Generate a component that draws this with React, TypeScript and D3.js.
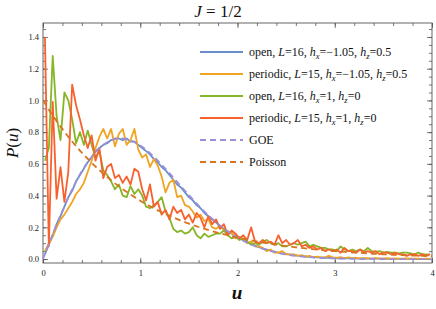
import React, { useEffect, useRef } from 'react';
import * as d3 from 'd3';

// histogram bins: centres start at binStart, spaced binWidth
const binStart = 0.02;
const binWidth = 0.04;

const openGeneric = [
  0.03, 0.09, 0.15, 0.22, 0.27, 0.33, 0.39, 0.43, 0.49, 0.53,
  0.57, 0.61, 0.64, 0.68, 0.70, 0.72, 0.73, 0.75, 0.76, 0.76,
  0.75, 0.76, 0.74, 0.74, 0.72, 0.70, 0.68, 0.66, 0.63, 0.61,
  0.58, 0.56, 0.53, 0.50, 0.47, 0.45, 0.42, 0.39, 0.37, 0.34,
  0.32, 0.29, 0.27, 0.25, 0.23, 0.21, 0.19, 0.175, 0.16, 0.145,
  0.13, 0.12, 0.105, 0.095, 0.085, 0.075, 0.067, 0.06, 0.053, 0.047,
  0.041, 0.036, 0.032, 0.028, 0.024, 0.021, 0.018, 0.016, 0.014, 0.012,
  0.01, 0.009, 0.008, 0.007, 0.006, 0.005, 0.005, 0.004, 0.004, 0.003,
  0.003, 0.003, 0.003, 0.002, 0.002, 0.002, 0.002, 0.002, 0.001, 0.001,
  0.001, 0.001, 0.001, 0.001, 0.001, 0.0, 0.0, 0.0, 0.0, 0.0,
];

const periodicGeneric = [
  0.05, 0.10, 0.14, 0.20, 0.25, 0.28, 0.32, 0.36, 0.41, 0.44,
  0.48, 0.55, 0.62, 0.70, 0.77, 0.82, 0.76, 0.82, 0.71, 0.79,
  0.82, 0.72, 0.75, 0.82, 0.69, 0.64, 0.66, 0.58, 0.63, 0.59,
  0.52, 0.42, 0.48, 0.50, 0.39, 0.40, 0.34, 0.33, 0.30, 0.26,
  0.28, 0.24, 0.25, 0.20, 0.19, 0.21, 0.18, 0.16, 0.17, 0.13,
  0.14, 0.12, 0.10, 0.11, 0.08, 0.08, 0.07, 0.05, 0.06, 0.04,
  0.04, 0.05, 0.03, 0.03, 0.03, 0.02, 0.025, 0.015, 0.02, 0.01,
  0.015, 0.01, 0.01, 0.02, 0.01, 0.008, 0.012, 0.006, 0.01, 0.005,
  0.008, 0.004, 0.006, 0.005, 0.003, 0.006, 0.004, 0.003, 0.005, 0.002,
  0.004, 0.003, 0.002, 0.004, 0.002, 0.003, 0.002, 0.001, 0.003, 0.002,
];

const openIsing = [
  0.62, 0.70, 1.28, 0.90, 0.75, 1.05, 1.00, 0.88, 0.73, 0.80,
  0.72, 0.81, 0.72, 0.64, 0.68, 0.56, 0.53, 0.49, 0.44, 0.47,
  0.40, 0.39, 0.46, 0.41, 0.44, 0.40, 0.33, 0.32, 0.34, 0.36,
  0.39, 0.30, 0.26, 0.19, 0.17, 0.18, 0.16, 0.17, 0.20, 0.15,
  0.13, 0.16, 0.14, 0.15, 0.16, 0.16, 0.18, 0.15, 0.13, 0.14,
  0.12, 0.13, 0.11, 0.09, 0.10, 0.09, 0.11, 0.12, 0.10, 0.09,
  0.10, 0.08, 0.08, 0.09, 0.10, 0.09, 0.10, 0.11, 0.08, 0.09,
  0.08, 0.07, 0.07, 0.06, 0.06, 0.05, 0.08, 0.06, 0.05, 0.06,
  0.05, 0.06, 0.05, 0.07, 0.05, 0.045, 0.05, 0.04, 0.045, 0.04,
  0.04, 0.035, 0.04, 0.04, 0.035, 0.03, 0.04, 0.03, 0.03, 0.03,
];

const periodicIsing = [
  1.40, 0.08, 0.99, 0.38, 0.58, 0.36, 0.55, 1.10, 0.97, 0.88,
  0.78, 0.70, 0.78, 0.62, 0.70, 0.51, 0.58, 0.60, 0.51, 0.53,
  0.48, 0.52, 0.47, 0.57, 0.55, 0.44, 0.37, 0.47, 0.33, 0.36,
  0.28, 0.31, 0.25, 0.33, 0.29, 0.31, 0.25, 0.28, 0.23, 0.29,
  0.26, 0.20, 0.27, 0.22, 0.25, 0.19, 0.22, 0.15, 0.18, 0.16,
  0.13, 0.15, 0.12, 0.20, 0.11, 0.10, 0.12, 0.10, 0.11, 0.09,
  0.15, 0.10, 0.12, 0.09, 0.10, 0.12, 0.08, 0.09, 0.07, 0.08,
  0.06, 0.07, 0.05, 0.06, 0.05, 0.06, 0.04, 0.07, 0.05, 0.05,
  0.04, 0.06, 0.04, 0.05, 0.04, 0.05, 0.03, 0.04, 0.04, 0.03,
  0.04, 0.03, 0.03, 0.02, 0.03, 0.03, 0.02, 0.03, 0.02, 0.03,
];

// reference curves, read at u = 0, 0.1, ..., 4
const theoryU = [
  0, 0.1, 0.2, 0.3, 0.4, 0.5, 0.6, 0.7, 0.8, 0.9, 1.0,
  1.1, 1.2, 1.3, 1.4, 1.5, 1.6, 1.7, 1.8, 1.9, 2.0,
  2.1, 2.2, 2.3, 2.4, 2.5, 2.6, 2.7, 2.8, 2.9, 3.0,
  3.1, 3.2, 3.3, 3.4, 3.5, 3.6, 3.7, 3.8, 3.9, 4.0,
];
const goeValues = [
  0, 0.156, 0.304, 0.439, 0.554, 0.645, 0.710, 0.748, 0.760, 0.749, 0.716,
  0.668, 0.608, 0.542, 0.472, 0.403, 0.337, 0.276, 0.222, 0.175, 0.136,
  0.103, 0.077, 0.057, 0.041, 0.029, 0.020, 0.014, 0.009, 0.006, 0.004,
  0.003, 0.002, 0.001, 0.001, 0, 0, 0, 0, 0, 0,
];
const poissonValues = [
  1.000, 0.905, 0.819, 0.741, 0.670, 0.607, 0.549, 0.497, 0.449, 0.407, 0.368,
  0.333, 0.301, 0.273, 0.247, 0.223, 0.202, 0.183, 0.165, 0.150, 0.135,
  0.122, 0.111, 0.100, 0.091, 0.082, 0.074, 0.067, 0.061, 0.055, 0.050,
  0.045, 0.041, 0.037, 0.033, 0.030, 0.027, 0.025, 0.022, 0.020, 0.018,
];

const xTicks = [0, 1, 2, 3, 4];
const yTicks = [0, 0.2, 0.4, 0.6, 0.8, 1.0, 1.2, 1.4];

// '*' = italic, '_' = italic subscript
const legendLabels = [
  ['open, ', '*L', '=16, ', '*h', '_x', '=\u22121.05, ', '*h', '_z', '=0.5'],
  ['periodic, ', '*L', '=15, ', '*h', '_x', '=\u22121.05, ', '*h', '_z', '=0.5'],
  ['open, ', '*L', '=16, ', '*h', '_x', '=1, ', '*h', '_z', '=0'],
  ['periodic, ', '*L', '=15, ', '*h', '_x', '=1, ', '*h', '_z', '=0'],
  ['GOE'],
  ['Poisson'],
];

const colors = ['#6b8ecb', '#f0a422', '#86b526', '#f8612e', '#9c8fd8', '#d8731f'];

const App: React.FC = () => {
  const svgRef = useRef<SVGSVGElement | null>(null);

  useEffect(() => {
    if (!svgRef.current) return;
    const svg = d3.select(svgRef.current);
    svg.selectAll('*').remove();

    const width = 436;
    const height = 309;
    const margin = { top: 23, right: 4, bottom: 46, left: 43 };
    const font = '"Liberation Serif", "Times New Roman", serif';

    const x = d3.scaleLinear().domain([0, 4]).range([margin.left, width - margin.right]);
    const y = d3.scaleLinear().domain([-0.025, 1.488]).range([height - margin.bottom, margin.top]);

    svg.append('rect').attr('width', width).attr('height', height).attr('fill', '#fff');

    svg.append('defs').append('clipPath').attr('id', 'plotClip')
      .append('rect')
      .attr('x', margin.left).attr('y', margin.top)
      .attr('width', width - margin.left - margin.right)
      .attr('height', height - margin.top - margin.bottom);

    const xMinor = d3.range(0, 4.001, 0.2);
    const yMinor = d3.range(0, 1.49, 0.05);
    const frameColor = '#555';

    const styleAxis = (g: d3.Selection<SVGGElement, unknown, null, undefined>) => {
      g.select('.domain').remove();
      g.selectAll('line').attr('stroke', frameColor).attr('stroke-width', 0.8);
      g.selectAll('text').attr('font-family', font).attr('font-size', 8.5).attr('fill', '#222');
    };

    // minor ticks on all four sides
    svg.append('g').attr('transform', `translate(0,${height - margin.bottom})`)
      .call(d3.axisBottom(x).tickValues(xMinor).tickSize(-3).tickFormat(() => '')).call(styleAxis);
    svg.append('g').attr('transform', `translate(0,${margin.top})`)
      .call(d3.axisTop(x).tickValues(xMinor).tickSize(-3).tickFormat(() => '')).call(styleAxis);
    svg.append('g').attr('transform', `translate(${margin.left},0)`)
      .call(d3.axisLeft(y).tickValues(yMinor).tickSize(-3).tickFormat(() => '')).call(styleAxis);
    svg.append('g').attr('transform', `translate(${width - margin.right},0)`)
      .call(d3.axisRight(y).tickValues(yMinor).tickSize(-3).tickFormat(() => '')).call(styleAxis);

    // major ticks
    svg.append('g').attr('transform', `translate(0,${height - margin.bottom})`)
      .call(d3.axisBottom(x).tickValues(xTicks).tickSize(-5).tickPadding(7).tickFormat(d3.format('d'))).call(styleAxis);
    svg.append('g').attr('transform', `translate(0,${margin.top})`)
      .call(d3.axisTop(x).tickValues(xTicks).tickSize(-5).tickFormat(() => '')).call(styleAxis);
    svg.append('g').attr('transform', `translate(${margin.left},0)`)
      .call(d3.axisLeft(y).tickValues(yTicks).tickSize(-5).tickPadding(4).tickFormat(d3.format('.1f'))).call(styleAxis);
    svg.append('g').attr('transform', `translate(${width - margin.right},0)`)
      .call(d3.axisRight(y).tickValues(yTicks).tickSize(-5).tickFormat(() => '')).call(styleAxis);

    // frame
    svg.append('rect')
      .attr('x', margin.left).attr('y', margin.top)
      .attr('width', width - margin.left - margin.right)
      .attr('height', height - margin.top - margin.bottom)
      .attr('fill', 'none').attr('stroke', frameColor).attr('stroke-width', 0.9);

    const plot = svg.append('g').attr('clip-path', 'url(#plotClip)');

    const histLine = d3.line<number>()
      .x((_, i) => x(binStart + i * binWidth))
      .y(d => y(d));

    const seriesList = [openGeneric, periodicGeneric, openIsing, periodicIsing];
    seriesList.forEach((s, k) => {
      plot.append('path')
        .attr('d', histLine(s) || '')
        .attr('fill', 'none')
        .attr('stroke', colors[k])
        .attr('stroke-width', 1.8)
        .attr('stroke-linejoin', 'round');
    });

    const theoryLine = d3.line<number>()
      .x((_, i) => x(theoryU[i]))
      .y(d => y(d))
      .curve(d3.curveMonotoneX);

    [goeValues, poissonValues].forEach((s, k) => {
      plot.append('path')
        .attr('d', theoryLine(s) || '')
        .attr('fill', 'none')
        .attr('stroke', colors[4 + k])
        .attr('stroke-width', 1.8)
        .attr('stroke-dasharray', '6,4');
    });

    // legend
    const legend = svg.append('g').attr('transform', 'translate(200,52)');
    legendLabels.forEach((parts, i) => {
      const row = legend.append('g').attr('transform', `translate(0,${i * 22})`);
      row.append('line')
        .attr('x1', 0).attr('x2', 43).attr('y1', 0).attr('y2', 0)
        .attr('stroke', colors[i]).attr('stroke-width', 1.8)
        .attr('stroke-dasharray', i >= 4 ? '6,4' : null);
      const text = row.append('text')
        .attr('x', 49).attr('y', 4)
        .attr('font-family', font).attr('font-size', 12).attr('fill', '#111');
      let shifted = false;
      parts.forEach(p => {
        const t = text.append('tspan');
        if (p.startsWith('_')) {
          t.text(p.slice(1)).attr('font-style', 'italic').attr('font-size', 8.5).attr('dy', 3);
          shifted = true;
        } else {
          if (shifted) { t.attr('dy', -3); shifted = false; }
          if (p.startsWith('*')) t.text(p.slice(1)).attr('font-style', 'italic');
          else t.text(p);
        }
      });
    });

    // title
    const title = svg.append('text')
      .attr('x', 218).attr('y', 17)
      .attr('text-anchor', 'middle')
      .attr('font-family', font).attr('font-size', 17).attr('fill', '#111');
    title.append('tspan').attr('font-style', 'italic').text('J');
    title.append('tspan').text(' = 1/2');

    // axis labels
    const yLabel = svg.append('text')
      .attr('transform', `translate(18,143) rotate(-90)`)
      .attr('text-anchor', 'middle')
      .attr('font-family', font).attr('font-size', 17).attr('fill', '#111');
    yLabel.append('tspan').attr('font-style', 'italic').text('P');
    yLabel.append('tspan').text('(');
    yLabel.append('tspan').attr('font-style', 'italic').text('u');
    yLabel.append('tspan').text(')');

    svg.append('text')
      .attr('x', 237).attr('y', 299)
      .attr('text-anchor', 'middle')
      .attr('font-family', font).attr('font-size', 19)
      .attr('font-style', 'italic').attr('font-weight', 'bold').attr('fill', '#111')
      .text('u');
  }, []);

  return (
    <svg ref={svgRef} width="436" height="309"
      style={{ position: 'absolute', left: 0, top: 0, display: 'block' }} />
  );
};

export default App;
